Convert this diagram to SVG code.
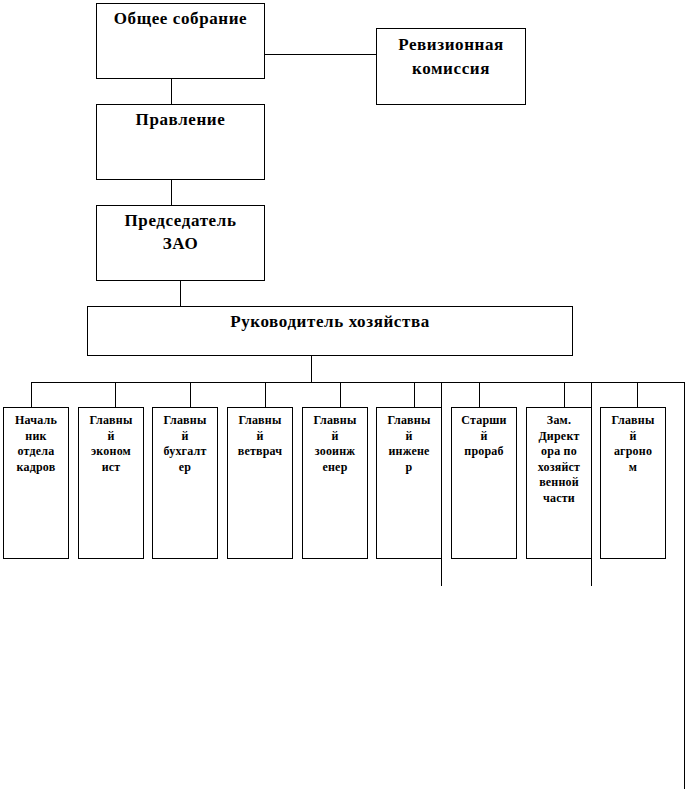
<svg xmlns="http://www.w3.org/2000/svg" width="685" height="789" viewBox="0 0 685 789">
<style>
rect{fill:#fff;stroke:#000;stroke-width:1}
.c line{stroke:#000;stroke-width:1}
text{font-family:'Liberation Serif','DejaVu Serif',serif;font-weight:700;fill:#000;text-anchor:middle}
.b{font-size:17px;letter-spacing:0.6px}
.s{font-size:12px;letter-spacing:0.2px}
</style>
<rect x="0" y="0" width="685" height="789" style="stroke:none"/>
<g class="c" id="connectors">
<line x1="264" y1="54.5" x2="376" y2="54.5"/>
<line x1="171.5" y1="79" x2="171.5" y2="104"/>
<line x1="171.5" y1="180" x2="171.5" y2="205"/>
<line x1="180.5" y1="281" x2="180.5" y2="306"/>
<line x1="311.5" y1="356" x2="311.5" y2="382"/>
<line x1="31" y1="382.5" x2="684.5" y2="382.5"/>
<line x1="31.5" y1="382" x2="31.5" y2="407"/>
<line x1="115.5" y1="382" x2="115.5" y2="407"/>
<line x1="190.5" y1="382" x2="190.5" y2="407"/>
<line x1="265.5" y1="382" x2="265.5" y2="407"/>
<line x1="340.5" y1="382" x2="340.5" y2="407"/>
<line x1="414.5" y1="382" x2="414.5" y2="407"/>
<line x1="441.5" y1="382" x2="441.5" y2="586"/>
<line x1="479.5" y1="382" x2="479.5" y2="407"/>
<line x1="564.5" y1="382" x2="564.5" y2="407"/>
<line x1="591.5" y1="382" x2="591.5" y2="586"/>
<line x1="637.5" y1="382" x2="637.5" y2="407"/>
<line x1="684.5" y1="382" x2="684.5" y2="789"/>
</g>
<g id="obshchee">
<rect x="96.5" y="3.5" width="168" height="75"/>
<text class="b" x="180.5" y="24">Общее собрание</text>
</g>
<g id="revizionnaya">
<rect x="376.5" y="28.5" width="149" height="76"/>
<text class="b" x="451" y="50">Ревизионная</text>
<text class="b" x="451" y="74">комиссия</text>
</g>
<g id="pravlenie">
<rect x="96.5" y="104.5" width="168" height="75"/>
<text class="b" x="180.5" y="125">Правление</text>
</g>
<g id="predsedatel">
<rect x="96.5" y="205.5" width="168" height="75"/>
<text class="b" x="180.5" y="226">Председатель</text>
<text class="b" x="180.5" y="249">ЗАО</text>
</g>
<g id="rukovoditel">
<rect x="87.5" y="306.5" width="485" height="49"/>
<text class="b" x="330" y="327">Руководитель хозяйства</text>
</g>
<g id="b1">
<rect x="3.5" y="407.5" width="65" height="151"/>
<text class="s" x="36" y="424">Началь</text>
<text class="s" x="36" y="439.5">ник</text>
<text class="s" x="36" y="455">отдела</text>
<text class="s" x="36" y="470.5">кадров</text>
</g>
<g id="b2">
<rect x="78.5" y="407.5" width="65" height="151"/>
<text class="s" x="111" y="424">Главны</text>
<text class="s" x="111" y="439.5">й</text>
<text class="s" x="111" y="455">эконом</text>
<text class="s" x="111" y="470.5">ист</text>
</g>
<g id="b3">
<rect x="152.5" y="407.5" width="65" height="151"/>
<text class="s" x="185" y="424">Главны</text>
<text class="s" x="185" y="439.5">й</text>
<text class="s" x="185" y="455">бухгалт</text>
<text class="s" x="185" y="470.5">ер</text>
</g>
<g id="b4">
<rect x="227.5" y="407.5" width="65" height="151"/>
<text class="s" x="260" y="424">Главны</text>
<text class="s" x="260" y="439.5">й</text>
<text class="s" x="260" y="455">ветврач</text>
</g>
<g id="b5">
<rect x="302.5" y="407.5" width="65" height="151"/>
<text class="s" x="335" y="424">Главны</text>
<text class="s" x="335" y="439.5">й</text>
<text class="s" x="335" y="455">зооинж</text>
<text class="s" x="335" y="470.5">енер</text>
</g>
<g id="b6">
<rect x="376.5" y="407.5" width="65" height="151"/>
<text class="s" x="409" y="424">Главны</text>
<text class="s" x="409" y="439.5">й</text>
<text class="s" x="409" y="455">инжене</text>
<text class="s" x="409" y="470.5">р</text>
</g>
<g id="b7">
<rect x="451.5" y="407.5" width="65" height="151"/>
<text class="s" x="484" y="424">Старши</text>
<text class="s" x="484" y="439.5">й</text>
<text class="s" x="484" y="455">прораб</text>
</g>
<g id="b8">
<rect x="526.5" y="407.5" width="65" height="151"/>
<text class="s" x="559" y="424">Зам.</text>
<text class="s" x="559" y="439.5">Директ</text>
<text class="s" x="559" y="455">ора по</text>
<text class="s" x="559" y="470.5">хозяйст</text>
<text class="s" x="559" y="486">венной</text>
<text class="s" x="559" y="501.5">части</text>
</g>
<g id="b9">
<rect x="600.5" y="407.5" width="65" height="151"/>
<text class="s" x="633" y="424">Главны</text>
<text class="s" x="633" y="439.5">й</text>
<text class="s" x="633" y="455">агроно</text>
<text class="s" x="633" y="470.5">м</text>
</g>
</svg>
